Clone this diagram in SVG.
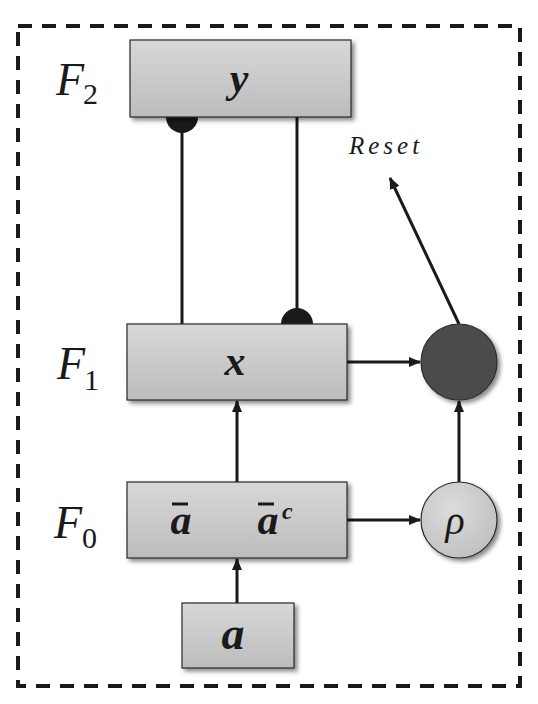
<svg xmlns="http://www.w3.org/2000/svg" width="538" height="704" viewBox="0 0 538 704">
<defs>
<style>
.box{fill:url(#g);stroke:#2a2a2a;stroke-width:1.2;filter:url(#sh)}
.ln{stroke:#1a1a1a;stroke-width:3;fill:none}
.arr{stroke:#1a1a1a;stroke-width:3;fill:none;marker-end:url(#ah)}
.cap{fill:#1a1a1a}
.bar{stroke:#1a1a1a;stroke-width:3}
</style>
<linearGradient id="g" x1="0" y1="0" x2="0" y2="1">
<stop offset="0" stop-color="#d8d8d8"/>
<stop offset="1" stop-color="#bcbcbc"/>
</linearGradient>
<radialGradient id="gr" cx="0.4" cy="0.35" r="0.7">
<stop offset="0" stop-color="#dcdcdc"/>
<stop offset="1" stop-color="#c0c0c0"/>
</radialGradient>
<filter id="sh" x="-10%" y="-10%" width="130%" height="140%">
<feDropShadow dx="3" dy="3" stdDeviation="2" flood-color="#000" flood-opacity="0.45"/>
</filter>
<marker id="ah" markerUnits="userSpaceOnUse" markerWidth="12" markerHeight="10" refX="11" refY="5" orient="auto">
<path d="M0,0 L12,5 L0,10 Z" fill="#1a1a1a"/>
</marker>
</defs>
<rect x="18" y="26" width="502" height="660" fill="none" stroke="#1a1a1a" stroke-width="4" stroke-dasharray="14 10"/>

<g id="connectors">
<line class="ln" x1="182" y1="117" x2="182" y2="324"/>
<path class="cap" d="M166,117 A16,16 0 0,0 198,117 Z"/>
<line class="ln" x1="297" y1="117" x2="297" y2="324"/>
<path class="cap" d="M281,324 A16,16 0 0,1 313,324 Z"/>
<line class="arr" x1="347" y1="362" x2="420" y2="362"/>
<line class="arr" x1="237" y1="482" x2="237" y2="401"/>
<line class="arr" x1="237" y1="603" x2="237" y2="559"/>
<line class="arr" x1="347" y1="520" x2="420" y2="520"/>
<line class="arr" x1="459" y1="482" x2="459" y2="401"/>
<line class="arr" x1="459" y1="324" x2="390" y2="178"/>
</g>

<g id="F2">
<rect class="box" x="130" y="40" width="221" height="77"/>
<text x="239" y="92" font-family="Liberation Serif" font-size="42" font-style="italic" font-weight="bold" text-anchor="middle" fill="#1a1a1a">y</text>
<text x="56" y="95" font-family="Liberation Serif" font-size="46" font-style="italic" fill="#1a1a1a">F</text>
<text x="83" y="104" font-family="Liberation Serif" font-size="30" fill="#1a1a1a">2</text>
</g>

<g id="F1">
<rect class="box" x="127" y="324" width="220" height="76"/>
<text x="235" y="375" font-family="Liberation Serif" font-size="42" font-style="italic" font-weight="bold" text-anchor="middle" fill="#1a1a1a">x</text>
<text x="57" y="379" font-family="Liberation Serif" font-size="46" font-style="italic" fill="#1a1a1a">F</text>
<text x="84" y="390" font-family="Liberation Serif" font-size="30" fill="#1a1a1a">1</text>
</g>

<g id="F0">
<rect class="box" x="127" y="482" width="220" height="76"/>
<text x="181" y="534" font-family="Liberation Serif" font-size="42" font-style="italic" font-weight="bold" text-anchor="middle" fill="#1a1a1a">a</text>
<line class="bar" x1="172" y1="504" x2="188" y2="504"/>
<text x="268" y="534" font-family="Liberation Serif" font-size="42" font-style="italic" font-weight="bold" text-anchor="middle" fill="#1a1a1a">a</text>
<line class="bar" x1="258" y1="504" x2="274" y2="504"/>
<text x="282" y="519" font-family="Liberation Serif" font-size="24" font-style="italic" font-weight="bold" fill="#1a1a1a">c</text>
<text x="54" y="538" font-family="Liberation Serif" font-size="46" font-style="italic" fill="#1a1a1a">F</text>
<text x="82" y="548" font-family="Liberation Serif" font-size="30" fill="#1a1a1a">0</text>
</g>

<g id="input">
<rect class="box" x="182" y="603" width="112" height="65"/>
<text x="233" y="649" font-family="Liberation Serif" font-size="46" font-style="italic" font-weight="bold" text-anchor="middle" fill="#1a1a1a">a</text>
</g>

<g id="reset">
<circle cx="459" cy="362" r="38" fill="#4b4c4e" stroke="#2a2a2a" stroke-width="1.2" filter="url(#sh)"/>
</g>

<g id="rho">
<circle cx="459" cy="520" r="38" fill="url(#gr)" stroke="#2a2a2a" stroke-width="1.2" filter="url(#sh)"/>
<text x="455" y="534" font-family="Liberation Serif" font-size="40" font-style="italic" text-anchor="middle" fill="#1a1a1a">ρ</text>
</g>

<text x="349" y="154" font-family="Liberation Serif" font-size="25" font-style="italic" letter-spacing="4" fill="#1a1a1a">Reset</text>
</svg>
